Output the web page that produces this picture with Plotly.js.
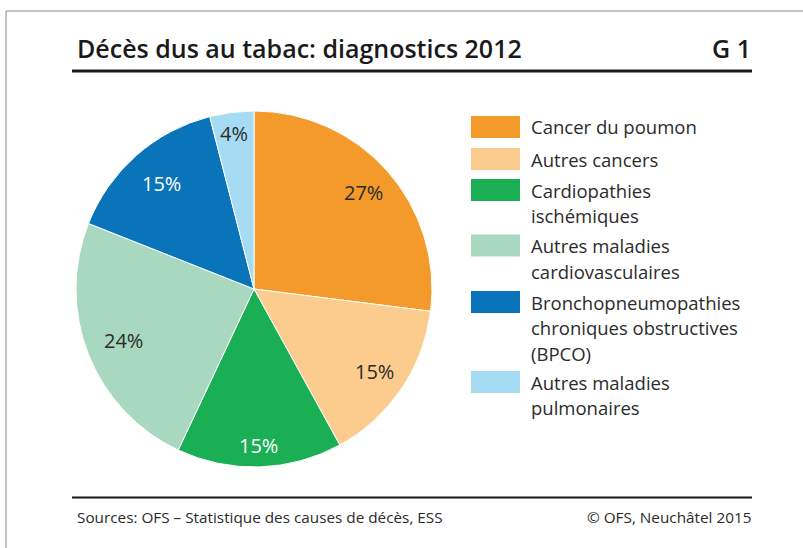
<!DOCTYPE html>
<html><head><meta charset="utf-8">
<script src="https://cdn.plot.ly/plotly-3.0.1.min.js"></script>
<style>html,body{margin:0;padding:0;background:#fff}#chart{width:803px;height:548px}</style>
</head><body><div id="chart"></div>
<script>
const categories = ["Cancer du poumon","Autres cancers","Cardiopathies ischémiques","Autres maladies cardiovasculaires","Bronchopneumopathies chroniques obstructives (BPCO)","Autres maladies pulmonaires"];
const legendLabels = ["Cancer du poumon","Autres cancers","Cardiopathies<br>ischémiques","Autres maladies<br>cardiovasculaires","Bronchopneumopathies<br>chroniques obstructives<br>(BPCO)","Autres maladies<br>pulmonaires"];
const values = [27,15,15,24,15,4];
const colors = ["#F39A2A","#FCCB8E","#1BAF55","#A8D8BF","#0A74BA","#A6DBF4"];
const textColors = ["#2b2b2b","#2b2b2b","#ffffff","#2b2b2b","#ffffff","#2b2b2b"];
const titleText = "Décès dus au tabac: diagnostics 2012";
const graphNo = "G 1";
const sourceText = "Sources: OFS – Statistique des causes de décès, ESS";
const copyText = "© OFS, Neuchâtel 2015";

const W=803,H=548;
const px=x=>x/W, py=y=>1-y/H;
const FONT='"Open Sans", "Noto Sans", sans-serif';

// pie geometry (layout)
const pie = {cx:254, cy:289, r:178};
const labelRadius = [0.82,0.82,0.88,0.79,0.79,0.88];

const trace = {
  type:'pie', values:values, labels:categories, sort:false, direction:'clockwise', rotation:0,
  marker:{colors:colors, line:{color:'#ffffff', width:1}},
  textinfo:'none',
  domain:{x:[px(pie.cx-pie.r),px(pie.cx+pie.r)], y:[py(pie.cy+pie.r),py(pie.cy-pie.r)]},
  showlegend:false, hoverinfo:'label+percent'
};

const shapes=[
  {type:'line',xref:'paper',yref:'paper',x0:px(6),x1:1,y0:py(11),y1:py(11),line:{color:'#888',width:1}},
  {type:'line',xref:'paper',yref:'paper',x0:px(6),x1:px(6),y0:py(11),y1:0,line:{color:'#888',width:1}},
  {type:'line',xref:'paper',yref:'paper',x0:px(72),x1:px(752),y0:py(71),y1:py(71),line:{color:'#1a1a1a',width:3}},
  {type:'line',xref:'paper',yref:'paper',x0:px(72),x1:px(752),y0:py(497.5),y1:py(497.5),line:{color:'#1a1a1a',width:2}}
];
const annotations=[
  {xref:'paper',yref:'paper',x:px(75),y:py(48),xanchor:'left',yanchor:'middle',showarrow:false,text:titleText,font:{family:FONT,size:25,color:'#1a1a1a',weight:600}},
  {xref:'paper',yref:'paper',x:px(753),y:py(48),xanchor:'right',yanchor:'middle',showarrow:false,text:graphNo,font:{family:FONT,size:25,color:'#1a1a1a',weight:600}},
  {xref:'paper',yref:'paper',x:px(75),y:py(517),xanchor:'left',yanchor:'middle',showarrow:false,text:sourceText,font:{family:FONT,size:15.3,color:'#2b2b2b'}},
  {xref:'paper',yref:'paper',x:px(753),y:py(517),xanchor:'right',yanchor:'middle',showarrow:false,text:copyText,font:{family:FONT,size:15.3,color:'#2b2b2b'}}
];

// slice labels placed at each slice's mid-angle, derived from values
const total = values.reduce((a,b)=>a+b,0);
let cum=0;
for(let i=0;i<values.length;i++){
  const mid=(cum+values[i]/2)/total*2*Math.PI; cum+=values[i];
  const rr=pie.r*labelRadius[i];
  const x=pie.cx+rr*Math.sin(mid), y=pie.cy-rr*Math.cos(mid);
  annotations.push({xref:'paper',yref:'paper',x:px(x),y:py(y),xanchor:'center',yanchor:'middle',showarrow:false,text:values[i]+'%',font:{family:FONT,size:20,color:textColors[i]}});
}

// legend
const legTop=[116,148,179,234.5,291,371];
const lineGap=25.5;
for(let i=0;i<categories.length;i++){
  shapes.push({type:'rect',xref:'paper',yref:'paper',x0:px(471),x1:px(520),y0:py(legTop[i]),y1:py(legTop[i]+22),fillcolor:colors[i],line:{width:0}});
  const lines=legendLabels[i].split('<br>');
  lines.forEach((t,k)=>{
    annotations.push({xref:'paper',yref:'paper',x:px(529),y:py(legTop[i]+11+k*lineGap),xanchor:'left',yanchor:'middle',align:'left',showarrow:false,text:t,font:{family:FONT,size:18.5,color:'#2b2b2b'}});
  });
}
Plotly.newPlot('chart',[trace],{width:W,height:H,margin:{l:0,r:0,t:0,b:0},paper_bgcolor:'#fff',shapes:shapes,annotations:annotations},{staticPlot:true});
</script></body></html>
